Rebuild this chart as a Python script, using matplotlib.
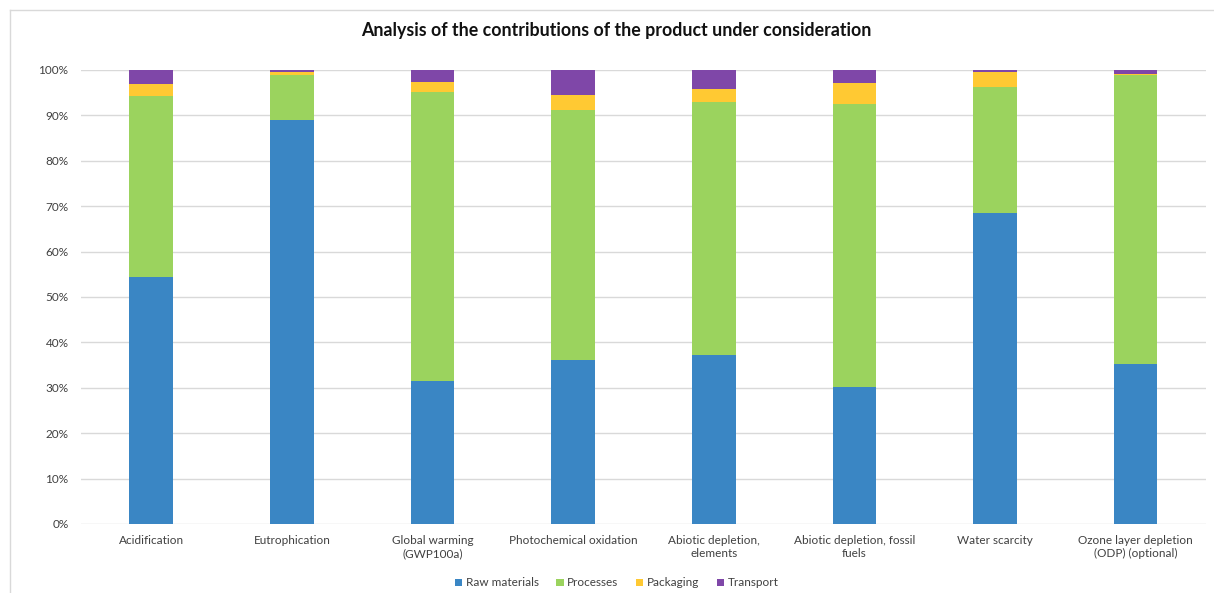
#!/usr/bin/env python3

import numpy as np
import matplotlib
matplotlib.use("Agg")
import matplotlib.pyplot as plt
from matplotlib.ticker import PercentFormatter

plt.rcParams['font.family'] = ['Lato', 'DejaVu Sans']

categories = [
	"Acidification", "Eutrophication", "Global warming\n(GWP100a)",
	"Photochemical oxidation", "Abiotic depletion,\nelements",
	"Abiotic depletion, fossil\nfuels", "Water scarcity",
	"Ozone layer depletion\n(ODP) (optional)",
]

# shares in percent
raw_materials = [54.3, 89.0, 31.4, 36.2, 37.2, 30.2, 68.4, 35.2]
processes     = [40.0,  9.8, 63.8, 55.0, 55.8, 62.3, 27.8, 63.7]
packaging     = [ 2.6,  0.7,  2.2,  3.3,  2.7,  4.6,  3.3,  0.3]
transport     = [ 3.1,  0.5,  2.6,  5.5,  4.3,  2.9,  0.5,  0.8]

series = [
	("Raw materials", raw_materials, "#3A86C4"),
	("Processes", processes, "#9BD35E"),
	("Packaging", packaging, "#FFC933"),
	("Transport", transport, "#7F47A8"),
]

fig = plt.figure(figsize=(12.14, 5.93), dpi=100)
ax = fig.add_axes([0.0667, 0.1164, 0.9267, 0.7656])

x = np.arange(len(categories))
bottom = np.zeros(len(categories))
for name, vals, col in series :
	ax.bar(x, vals, 0.31, bottom=bottom, color=col, label=name, zorder=3)
	bottom += np.array(vals)

ax.set_xlim(-0.5, len(categories) - 0.5)
ax.set_ylim(0, 100)
ax.set_yticks(np.arange(0, 101, 10))
ax.yaxis.set_major_formatter(PercentFormatter(decimals=0))
ax.set_xticks(x)
ax.set_xticklabels(categories, fontsize=8.5, color="#404040")
ax.tick_params(axis="y", labelsize=8.5, labelcolor="#404040", length=0, pad=9)
ax.tick_params(axis="x", length=0, pad=8)
ax.grid(axis="y", color="#D9D9D9", linewidth=1, zorder=0)
for s in ax.spines.values() :
	s.set_visible(False)

fig.text(0.508, 0.949, "Analysis of the contributions of the product under consideration",
	ha="center", va="center", fontsize=12.8, fontweight="bold", color="#111111")

fig.legend(loc="center", bbox_to_anchor=(0.508, 0.017), ncol=4, frameon=False,
	fontsize=8.5, handlelength=0.6, handleheight=0.6, handletextpad=0.3,
	columnspacing=1.5, labelcolor="#404040")

# light chart frame
fig.add_artist(plt.Line2D([0.008, 0.008], [0.0, 0.983], color="#D9D9D9", lw=1, transform=fig.transFigure))
fig.add_artist(plt.Line2D([0.008, 1.0], [0.983, 0.983], color="#D9D9D9", lw=1, transform=fig.transFigure))

fig.savefig("out.png", dpi=100)
